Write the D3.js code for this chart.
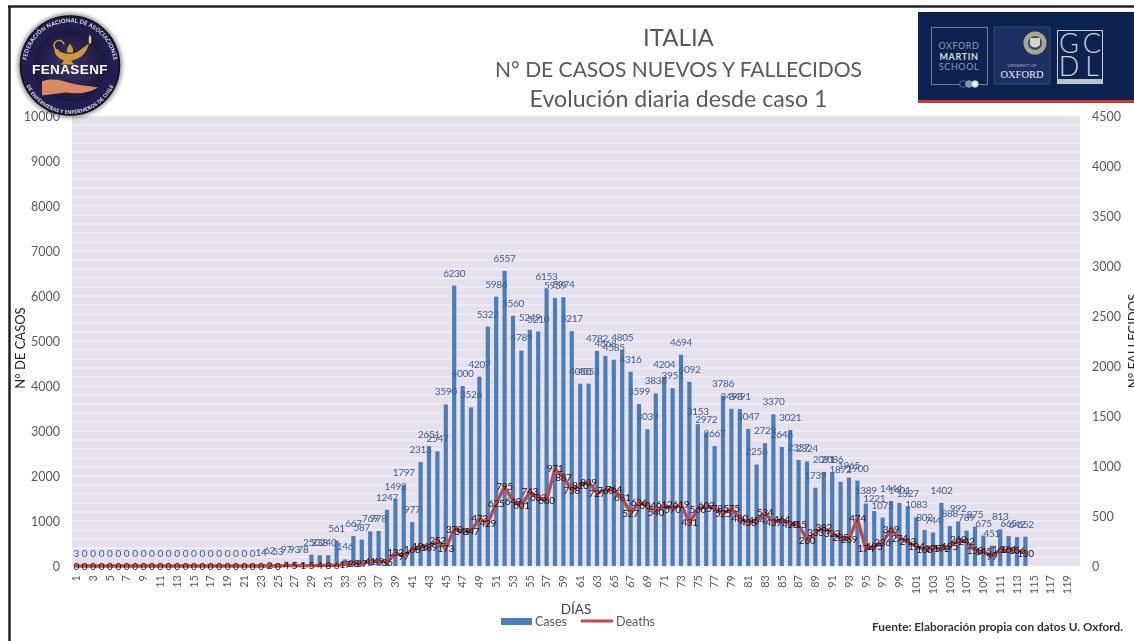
<!DOCTYPE html>
<html><head><meta charset="utf-8"><title>Italia</title>
<script src="https://cdn.jsdelivr.net/npm/d3@7"></script>
<style>
html,body{margin:0;padding:0;background:#fff;overflow:hidden}
svg{display:block;font-family:Lato,"Open Sans",sans-serif;filter:blur(0.45px)}
</style></head><body>
<svg id="c" width="1134" height="641"></svg>
<script>
const days = d3.range(1, 121);
const cases = [3,0,0,0,0,0,0,0,0,0,0,0,0,0,0,0,0,0,0,0,0,0,14,62,53,97,93,78,250,238,240,561,146,667,587,769,778,1247,1492,1797,977,2313,2651,2547,3590,6230,4000,3526,4207,5322,5986,6557,5560,4789,5249,5210,6153,5959,5974,5217,4050,4053,4782,4668,4585,4805,4316,3599,3039,3836,4204,3951,4694,4092,3153,2972,2667,3786,3493,3491,3047,2256,2729,3370,2646,3021,2357,2324,1739,2091,2086,1872,1965,1900,1389,1221,1075,1444,1401,1327,1083,802,744,1402,888,992,789,875,675,451,813,665,642,652];
const deaths = [0,0,0,0,0,0,0,0,0,0,0,0,0,0,0,0,0,0,0,0,0,0,0,2,0,4,5,1,5,4,8,6,17,28,27,41,49,36,133,97,168,196,189,252,173,370,349,347,473,429,625,795,649,601,743,683,660,971,887,758,810,839,727,760,764,681,527,636,604,540,612,570,619,431,566,602,578,525,575,480,433,454,534,437,464,420,415,260,333,382,323,285,269,474,174,195,236,369,274,243,194,165,179,172,195,262,242,153,145,99,162,161,156,130];
const leftTicks = d3.range(0, 10001, 1000);
const rightTicks = d3.range(0, 4501, 500);
const minorGrid = d3.range(0, 10001, 200);
const titleLines = ["ITALIA", "N° DE CASOS NUEVOS Y FALLECIDOS", "Evolución diaria desde caso 1"];

const svg = d3.select("#c");
const plot = {l: 72, r: 1080, t: 116, b: 566};
const x = d3.scaleBand().domain(days).range([plot.l, plot.r]).paddingInner(0.5).paddingOuter(0.25);
const yL = d3.scaleLinear().domain([0, 10000]).range([plot.b, plot.t]);
const yR = d3.scaleLinear().domain([0, 4500]).range([plot.b, plot.t]);
const cx = d => x(d) + x.bandwidth() / 2;

// outer frame
svg.append("line").attr("x1", 8).attr("x2", 1134).attr("y1", 6.5).attr("y2", 6.5).attr("stroke", "#222").attr("stroke-width", 2.5);
svg.append("line").attr("x1", 9.5).attr("x2", 9.5).attr("y1", 6).attr("y2", 641).attr("stroke", "#222").attr("stroke-width", 2.5);

// plot background
svg.append("rect").attr("x", plot.l).attr("y", plot.t).attr("width", plot.r - plot.l).attr("height", plot.b - plot.t).attr("fill", "#e5e0ec");
svg.append("g").selectAll("line").data(minorGrid).join("line")
  .attr("x1", plot.l).attr("x2", plot.r).attr("y1", d => yL(d)).attr("y2", d => yL(d))
  .attr("stroke", "#f4f1f7").attr("stroke-width", 1);

// axes
const gl = svg.append("g").attr("transform", `translate(${plot.l},0)`).call(d3.axisLeft(yL).tickValues(leftTicks).tickFormat(d3.format("d")).tickSize(0).tickPadding(12));
const gr = svg.append("g").attr("transform", `translate(${plot.r},0)`).call(d3.axisRight(yR).tickValues(rightTicks).tickFormat(d3.format("d")).tickSize(0).tickPadding(12));
[gl, gr].forEach(g => { g.select(".domain").remove(); g.selectAll("text").attr("font-size", 12.5).attr("fill", "#595959").attr("font-family", "Lato"); });
const gx = svg.append("g").attr("transform", `translate(0,${plot.b})`).call(d3.axisBottom(x).tickValues(days.filter(d => d % 2 === 1)).tickSize(0));
gx.select(".domain").remove();
gx.selectAll("text").attr("font-size", 11).attr("fill", "#595959").attr("font-family", "Lato")
  .attr("text-anchor", "end").attr("dy", "0.35em").attr("transform", "translate(0,9) rotate(-90)").attr("x", 0).attr("y", 0);

// bars
const idx = cases.map((c, i) => ({day: days[i], c, d: deaths[i]}));
svg.append("g").selectAll("rect").data(idx).join("rect")
  .attr("x", d => x(d.day)).attr("width", x.bandwidth())
  .attr("y", d => yL(d.c)).attr("height", d => plot.b - yL(d.c)).attr("fill", "#4a7ebb");

// line
const line = d3.line().x(d => cx(d.day)).y(d => yR(d.d));
svg.append("path").datum(idx).attr("d", line).attr("fill", "none").attr("stroke", "#be4b48").attr("stroke-width", 3.4).attr("stroke-linejoin", "round").attr("stroke-linecap", "round");

// data labels
svg.append("g").selectAll("text").data(idx).join("text")
  .attr("x", d => cx(d.day)).attr("y", d => yL(d.c) - 9).attr("text-anchor", "middle")
  .attr("font-size", 10).attr("letter-spacing", -0.3).attr("fill", "#3d5f92").text(d => d.c);
svg.append("g").selectAll("text").data(idx).join("text")
  .attr("x", d => cx(d.day)).attr("y", d => yR(d.d) + 3.5).attr("text-anchor", "middle")
  .attr("font-size", 10).attr("letter-spacing", -0.3).attr("fill", "#1a1014").text(d => d.d);

// titles
const titleSizes = [24, 21, 23.2], titleY = [46, 77, 107];
svg.append("g").selectAll("text").data(titleLines).join("text")
  .attr("x", 678.5).attr("y", (d, i) => titleY[i]).attr("text-anchor", "middle")
  .attr("font-size", (d, i) => titleSizes[i]).attr("fill", "#595959").text(d => d);

// axis titles
svg.append("text").attr("transform", "translate(25,348) rotate(-90)").attr("text-anchor", "middle").attr("font-size", 13).attr("fill", "#262626").text("N° DE CASOS");
svg.append("text").attr("transform", "translate(1138,341) rotate(-90)").attr("text-anchor", "middle").attr("font-size", 13).attr("fill", "#262626").text("N° FALLECIDOS");
svg.append("text").attr("x", 576).attr("y", 614).attr("text-anchor", "middle").attr("font-size", 13.5).attr("fill", "#404040").text("DÍAS");

// legend
svg.append("rect").attr("x", 501).attr("y", 618).attr("width", 31).attr("height", 7).attr("fill", "#4a7ebb");
svg.append("text").attr("x", 535).attr("y", 626).attr("font-size", 12.5).attr("fill", "#595959").text("Cases");
svg.append("line").attr("x1", 581).attr("x2", 613).attr("y1", 621).attr("y2", 621).attr("stroke", "#be4b48").attr("stroke-width", 3);
svg.append("text").attr("x", 616).attr("y", 626).attr("font-size", 12.5).attr("fill", "#595959").text("Deaths");

// source
svg.append("text").attr("x", 1123).attr("y", 631).attr("text-anchor", "end").attr("font-size", 11.8).attr("font-weight", 700).attr("fill", "#333").text("Fuente: Elaboración propia con datos U. Oxford.");

// FENASENF badge
const logo = svg.append("g").attr("transform", "translate(70,65.5)");
const defs = svg.append("defs");
const grad = defs.append("radialGradient").attr("id", "lg");
grad.append("stop").attr("offset", "0%").attr("stop-color", "#3a3468");
grad.append("stop").attr("offset", "100%").attr("stop-color", "#1d1840");
const glow = defs.append("filter").attr("id", "soft").attr("x", "-20%").attr("y", "-20%").attr("width", "140%").attr("height", "140%");
glow.append("feGaussianBlur").attr("stdDeviation", 2);
logo.append("circle").attr("r", 52).attr("fill", "#000").attr("opacity", .45).attr("filter", "url(#soft)");
logo.append("circle").attr("r", 49.5).attr("fill", "#211d4e").attr("stroke", "#111").attr("stroke-width", 1.5);
logo.append("circle").attr("r", 36).attr("fill", "url(#lg)");
defs.append("path").attr("id", "arcTop").attr("d", "M-42,14 A44,44 0 1 1 42,14");
defs.append("path").attr("id", "arcBot").attr("d", "M-46,14 A48,48 0 0 0 46,14");
logo.append("text").attr("font-size", 5.6).attr("font-weight", 700).attr("letter-spacing", .25).attr("fill", "#e8e8f0").append("textPath").attr("href", "#arcTop").attr("startOffset", "50%").attr("text-anchor", "middle").text("FEDERACIÓN NACIONAL DE ASOCIACIONES");
logo.append("text").attr("font-size", 5).attr("font-weight", 700).attr("letter-spacing", .2).attr("fill", "#e8e8f0").append("textPath").attr("href", "#arcBot").attr("startOffset", "50%").attr("text-anchor", "middle").text("DE ENFERMERAS Y ENFERMEROS DE CHILE");
logo.append("text").attr("x", 0).attr("y", 8).attr("text-anchor", "middle").attr("font-size", 13.5).attr("font-weight", 900).attr("letter-spacing", .4).attr("fill", "#fff").attr("font-family", "Liberation Sans").text("FENASENF");
// lamp
logo.append("path").attr("d", "M-15,-18 C-10,-11 2,-10 8,-14 L19,-22 C16,-10 8,-6 1,-5 L4,-1 L-9,-1 L-6,-5 C-12,-7 -17,-12 -15,-18Z").attr("fill", "#cf9a3a");
logo.append("path").attr("d", "M-11,-15 a5,5 0 1 1 5,-6").attr("fill", "none").attr("stroke", "#cf9a3a").attr("stroke-width", 1.6);
logo.append("path").attr("d", "M-3,-13 v-4 l3,-5 l3,5 v4z").attr("fill", "#cf9a3a");
logo.append("path").attr("d", "M19,-22 q-1,-6 1,-9 q2,3 1,9z").attr("fill", "#f0d070");
// hand
logo.append("path").attr("d", "M-28,16 C-18,12 -8,15 -2,17 C8,20 18,20 28,22 C20,27 8,29 -4,27 C-12,28 -20,29 -28,30Z").attr("fill", "#d98a60");

// Oxford panel
const ox = svg.append("g");
ox.append("rect").attr("x", 918).attr("y", 12).attr("width", 216).attr("height", 88).attr("fill", "#0c2350");
ox.append("rect").attr("x", 918).attr("y", 100).attr("width", 216).attr("height", 3).attr("fill", "#d8302a");
ox.append("rect").attr("x", 931.5).attr("y", 27.5).attr("width", 56).attr("height", 57).attr("fill", "none").attr("stroke", "#6f8199");
const oxt = [["OXFORD", 48.5, 400], ["MARTIN", 59.5, 700], ["SCHOOL", 70, 400]];
ox.selectAll(".m").data(oxt).join("text").attr("x", 959).attr("y", d => d[1]).attr("text-anchor", "middle").attr("font-size", 9).attr("font-weight", d => d[2]).attr("letter-spacing", .6).attr("fill", d => d[2] === 700 ? "#d5dbe4" : "#8c9bb0").text(d => d[0]);
ox.selectAll(".d").data([0, 1, 2]).join("circle").attr("cx", d => 963 + d * 6).attr("cy", 84).attr("r", 3.4).attr("fill", d => ["#0c2350", "#8594a8", "#eef1f5"][d]).attr("stroke", "#8c9bb0").attr("stroke-width", .6);
ox.append("rect").attr("x", 994).attr("y", 27).attr("width", 56).attr("height", 57).attr("fill", "#1d2f63").attr("stroke", "#4a5a80").attr("stroke-width", .6);
ox.append("circle").attr("cx", 1035).attr("cy", 43).attr("r", 11.5).attr("fill", "#a9a88f");
ox.append("circle").attr("cx", 1035).attr("cy", 43).attr("r", 7).attr("fill", "#3b4870");
ox.append("path").attr("d", "M1030,38 h10 v7 q-5,5 -10,0z").attr("fill", "#d5d6cb");
ox.append("text").attr("x", 1022).attr("y", 67).attr("text-anchor", "middle").attr("font-size", 4).attr("fill", "#aab3c5").text("UNIVERSITY OF");
ox.append("text").attr("x", 1022).attr("y", 78).attr("text-anchor", "middle").attr("font-size", 10.5).attr("font-family", "Liberation Serif").attr("fill", "#e5e8ee").text("OXFORD");
ox.append("rect").attr("x", 1057.5).attr("y", 30.5).attr("width", 45).attr("height", 53).attr("fill", "none").attr("stroke", "#c5ccd6");
ox.append("rect").attr("x", 1058).attr("y", 79).attr("width", 44).attr("height", 4).attr("fill", "#b9c1cc");
const gcdl = [["G", 1069, 53], ["C", 1092, 53], ["D", 1069, 76], ["L", 1092, 76]];
ox.selectAll(".g").data(gcdl).join("text").attr("x", d => d[1]).attr("y", d => d[2]).attr("text-anchor", "middle").attr("font-size", 27).attr("font-weight", 300).attr("fill", "#cfd5de").text(d => d[0]);
</script>
</body></html>
